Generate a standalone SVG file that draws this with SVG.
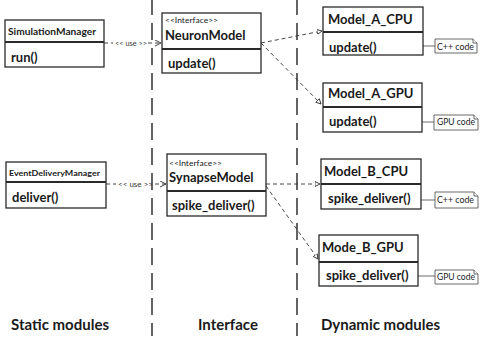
<svg xmlns="http://www.w3.org/2000/svg" width="480" height="339" viewBox="0 0 480 339">
<defs>
<style>
text{font-family:Lato,"Liberation Sans",sans-serif;fill:#1a1a1a;font-weight:bold}
.box{fill:#fff;stroke:#2a2a2a;stroke-width:1.3}
.div{stroke:#2a2a2a;stroke-width:2}
.t{font-size:13px}
.s{font-size:8px;font-weight:normal}
.u{font-size:8px;font-weight:normal;fill:#333}
.c{font-size:8.5px;font-weight:normal}
.lane{stroke:#111;stroke-width:1.3;stroke-dasharray:17 8;fill:none}
.dash{stroke:#333;stroke-width:0.9;stroke-dasharray:4 3;fill:none}
.note{fill:#fff;stroke:#444;stroke-width:0.8}
.lk{stroke:#444;stroke-width:0.8}
.big{font-size:15px}
</style>
<marker id="open" markerWidth="8" markerHeight="8" refX="6" refY="3" orient="auto" markerUnits="userSpaceOnUse"><path d="M0,0 L6,3 L0,6" fill="none" stroke="#333" stroke-width="0.9"/></marker>
<marker id="tri" markerWidth="8" markerHeight="8" refX="5" refY="3" orient="auto" markerUnits="userSpaceOnUse"><path d="M0,0.5 L5,3 L0,5.5 Z" fill="#fff" stroke="#333" stroke-width="0.9"/></marker>
</defs>
<g id="lanes">
<line class="lane" x1="152" y1="-2" x2="152" y2="336"/>
<line class="lane" x1="297" y1="-2" x2="297" y2="336"/>
</g>
<g id="connectors">
<line class="dash" x1="104" y1="43" x2="113" y2="43"/>
<text class="u" x="115" y="46" textLength="32" lengthAdjust="spacingAndGlyphs">&lt;&lt; use &gt;&gt;</text>
<line class="dash" x1="148" y1="43" x2="161" y2="43" marker-end="url(#open)"/>
<line class="dash" x1="106" y1="184" x2="116" y2="184"/>
<text class="u" x="118" y="187" textLength="35" lengthAdjust="spacingAndGlyphs">&lt;&lt; use &gt;&gt;</text>
<line class="dash" x1="155" y1="184" x2="166" y2="184" marker-end="url(#open)"/>
<line class="dash" x1="261" y1="43" x2="322" y2="31" marker-end="url(#tri)"/>
<line class="dash" x1="261" y1="43" x2="321" y2="104" marker-end="url(#tri)"/>
<line class="dash" x1="266" y1="184" x2="320" y2="184" marker-end="url(#tri)"/>
<line class="dash" x1="266" y1="186" x2="318" y2="259" marker-end="url(#tri)"/>
<line class="lk" x1="423" y1="46" x2="435" y2="46"/>
<line class="lk" x1="422" y1="122" x2="434" y2="122"/>
<line class="lk" x1="421" y1="200" x2="435" y2="200"/>
<line class="lk" x1="418" y1="276" x2="435" y2="276"/>
</g>
<g id="SimulationManager">
<rect class="box" x="5" y="20" width="99" height="47"/>
<line class="div" x1="5" y1="42" x2="104" y2="42"/>
<text x="8" y="35" style="font-size:9.5px" textLength="88" lengthAdjust="spacingAndGlyphs">SimulationManager</text>
<text class="t" x="11" y="62">run()</text>
</g>
<g id="NeuronModel">
<rect class="box" x="162" y="13" width="99" height="60"/>
<line class="div" x1="162" y1="49" x2="261" y2="49"/>
<text class="s" x="165" y="23" textLength="53" lengthAdjust="spacingAndGlyphs">&lt;&lt;Interface&gt;&gt;</text>
<text class="t" x="165" y="40">NeuronModel</text>
<text class="t" x="168" y="68">update()</text>
</g>
<g id="Model_A_CPU">
<rect class="box" x="323" y="7" width="100" height="48"/>
<line class="div" x1="323" y1="32" x2="423" y2="32"/>
<text class="t" x="328" y="24">Model_A_CPU</text>
<text class="t" x="329" y="52">update()</text>
</g>
<g id="note_A_CPU">
<path class="note" d="M435,39 H473 L477,43 V53 H435 Z"/>
<path class="note" d="M473,39 V43 H477" fill="none"/>
<text class="c" x="437" y="50" textLength="37" lengthAdjust="spacingAndGlyphs">C++ code</text>
</g>
<g id="Model_A_GPU">
<rect class="box" x="323" y="83" width="99" height="49"/>
<line class="div" x1="323" y1="107" x2="422" y2="107"/>
<text class="t" x="328" y="98">Model_A_GPU</text>
<text class="t" x="329" y="126">update()</text>
</g>
<g id="note_A_GPU">
<path class="note" d="M434,115 H474 L478,119 V130 H434 Z"/>
<path class="note" d="M474,115 V119 H478" fill="none"/>
<text class="c" x="437" y="125" textLength="38" lengthAdjust="spacingAndGlyphs">GPU code</text>
</g>
<g id="EventDeliveryManager">
<rect class="box" x="6" y="162" width="100" height="46"/>
<line class="div" x1="6" y1="182" x2="106" y2="182"/>
<text x="9" y="176" style="font-size:8.3px" textLength="91" lengthAdjust="spacingAndGlyphs">EventDeliveryManager</text>
<text class="t" x="12" y="202">deliver()</text>
</g>
<g id="SynapseModel">
<rect class="box" x="167" y="154" width="99" height="62"/>
<line class="div" x1="167" y1="191" x2="266" y2="191"/>
<text class="s" x="169" y="166" textLength="53" lengthAdjust="spacingAndGlyphs">&lt;&lt;Interface&gt;&gt;</text>
<text class="t" x="169" y="182">SynapseModel</text>
<text class="t" x="172" y="210">spike_deliver()</text>
</g>
<g id="Model_B_CPU">
<rect class="box" x="321" y="159" width="100" height="50"/>
<line class="div" x1="321" y1="184" x2="421" y2="184"/>
<text class="t" x="324" y="176">Model_B_CPU</text>
<text class="t" x="328" y="203">spike_deliver()</text>
</g>
<g id="note_B_CPU">
<path class="note" d="M435,192 H474 L478,196 V208 H435 Z"/>
<path class="note" d="M474,192 V196 H478" fill="none"/>
<text class="c" x="437" y="203" textLength="37" lengthAdjust="spacingAndGlyphs">C++ code</text>
</g>
<g id="Mode_B_GPU">
<rect class="box" x="319" y="235" width="99" height="51"/>
<line class="div" x1="319" y1="262" x2="418" y2="262"/>
<text class="t" x="322" y="252">Mode_B_GPU</text>
<text class="t" x="326" y="280">spike_deliver()</text>
</g>
<g id="note_B_GPU">
<path class="note" d="M435,270 H474 L478,274 V284 H435 Z"/>
<path class="note" d="M474,270 V274 H478" fill="none"/>
<text class="c" x="437" y="280" textLength="38" lengthAdjust="spacingAndGlyphs">GPU code</text>
</g>
<g id="labels">
<text class="big" x="11" y="330">Static modules</text>
<text class="big" x="198" y="330">Interface</text>
<text class="big" x="321" y="330">Dynamic modules</text>
</g>
</svg>
